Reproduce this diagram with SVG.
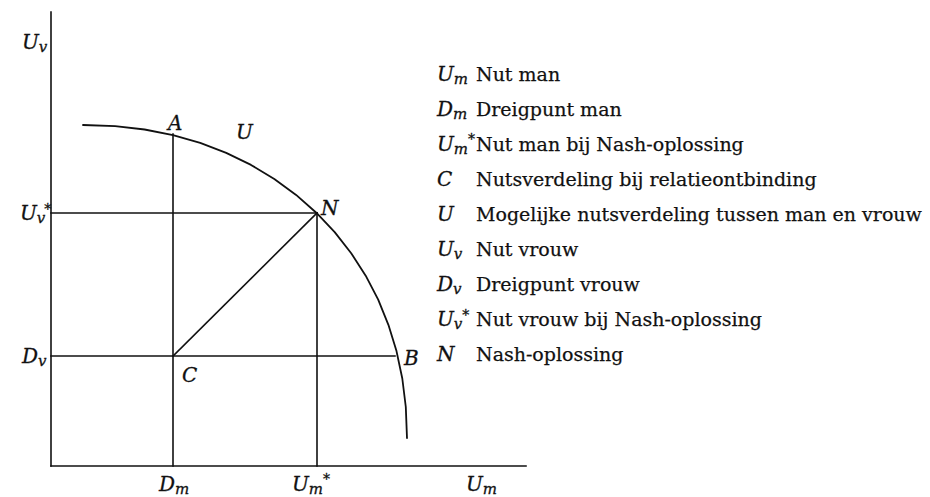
<svg xmlns="http://www.w3.org/2000/svg" width="930" height="497" viewBox="0 0 930 497">
<style>
.ln{stroke:#111;stroke-width:1.6;fill:none;stroke-linecap:square}
.cv{stroke:#111;stroke-width:1.8;fill:none;stroke-linejoin:round;stroke-linecap:round}
.it{font-family:"DejaVu Serif","Liberation Serif",serif;font-style:italic;font-size:20px;fill:#111;stroke:#111;stroke-width:0.3}
.tx{font-family:"DejaVu Serif","Liberation Serif",serif;font-size:19px;fill:#111;stroke:#111;stroke-width:0.25}
.sb{font-size:15px}
.st{font-size:14px;font-style:normal}
</style>
<rect width="930" height="497" fill="#fff"/>
<g id="connectors">
<line class="ln" x1="51" y1="12" x2="51" y2="466"/>
<line class="ln" x1="51" y1="466" x2="526" y2="466"/>
<line class="ln" x1="173" y1="134" x2="173" y2="466"/>
<line class="ln" x1="317" y1="213" x2="317" y2="466"/>
<line class="ln" x1="51" y1="213" x2="317" y2="213"/>
<line class="ln" x1="51" y1="356" x2="395" y2="356"/>
<line class="ln" x1="173" y1="356" x2="317" y2="213"/>
</g>
<g id="curve-U">
<path class="cv" d="M83,125 L115.1,126.1 L144.6,129.5 L173,135.1 L200.2,142.9 L226.2,152.9 L251,164.9 L274.3,178.9 L296.1,194.9 L316.3,212.7 L334.7,232.1 L351.2,253.2 L365.7,275.7 L378.2,299.7 L388.4,324.8 L396.5,351.1 L402.3,378.5 L405.8,407 L407,438"/>
</g>
<g id="axis-labels">
<text class="it" x="22" y="49">U<tspan class="sb" dy="3">v</tspan></text>
<text class="it" x="20" y="220">U<tspan class="sb" dy="3">v</tspan><tspan class="st" dx="-1" dy="-9">*</tspan></text>
<text class="it" x="22" y="363">D<tspan class="sb" dy="3">v</tspan></text>
<text class="it" x="159" y="491">D<tspan class="sb" dy="3">m</tspan></text>
<text class="it" x="292" y="491">U<tspan class="sb" dy="3">m</tspan><tspan class="st" dy="-10">*</tspan></text>
<text class="it" x="466" y="491">U<tspan class="sb" dy="3">m</tspan></text>
</g>
<g id="node-A"><text class="it" x="168" y="130">A</text></g>
<g id="node-U"><text class="it" x="236" y="139">U</text></g>
<g id="node-N"><text class="it" x="321" y="215">N</text></g>
<g id="node-C"><text class="it" x="182" y="382">C</text></g>
<g id="node-B"><text class="it" x="404" y="365">B</text></g>
<g id="legend">
<text class="it" x="437" y="81">U<tspan class="sb" dy="3">m</tspan></text><text class="tx" x="476" y="81">Nut man</text>
<text class="it" x="437" y="116">D<tspan class="sb" dy="3">m</tspan></text><text class="tx" x="476" y="116">Dreigpunt man</text>
<text class="it" x="437" y="151">U<tspan class="sb" dy="3">m</tspan><tspan class="st" dy="-10">*</tspan></text><text class="tx" x="476" y="151">Nut man bij Nash-oplossing</text>
<text class="it" x="437" y="186">C</text><text class="tx" x="476" y="186">Nutsverdeling bij relatieontbinding</text>
<text class="it" x="437" y="221">U</text><text class="tx" x="476" y="221">Mogelijke nutsverdeling tussen man en vrouw</text>
<text class="it" x="437" y="256">U<tspan class="sb" dy="3">v</tspan></text><text class="tx" x="476" y="256">Nut vrouw</text>
<text class="it" x="437" y="291">D<tspan class="sb" dy="3">v</tspan></text><text class="tx" x="476" y="291">Dreigpunt vrouw</text>
<text class="it" x="437" y="326">U<tspan class="sb" dy="3">v</tspan><tspan class="st" dy="-9">*</tspan></text><text class="tx" x="476" y="326">Nut vrouw bij Nash-oplossing</text>
<text class="it" x="437" y="361">N</text><text class="tx" x="476" y="361">Nash-oplossing</text>
</g>
</svg>
